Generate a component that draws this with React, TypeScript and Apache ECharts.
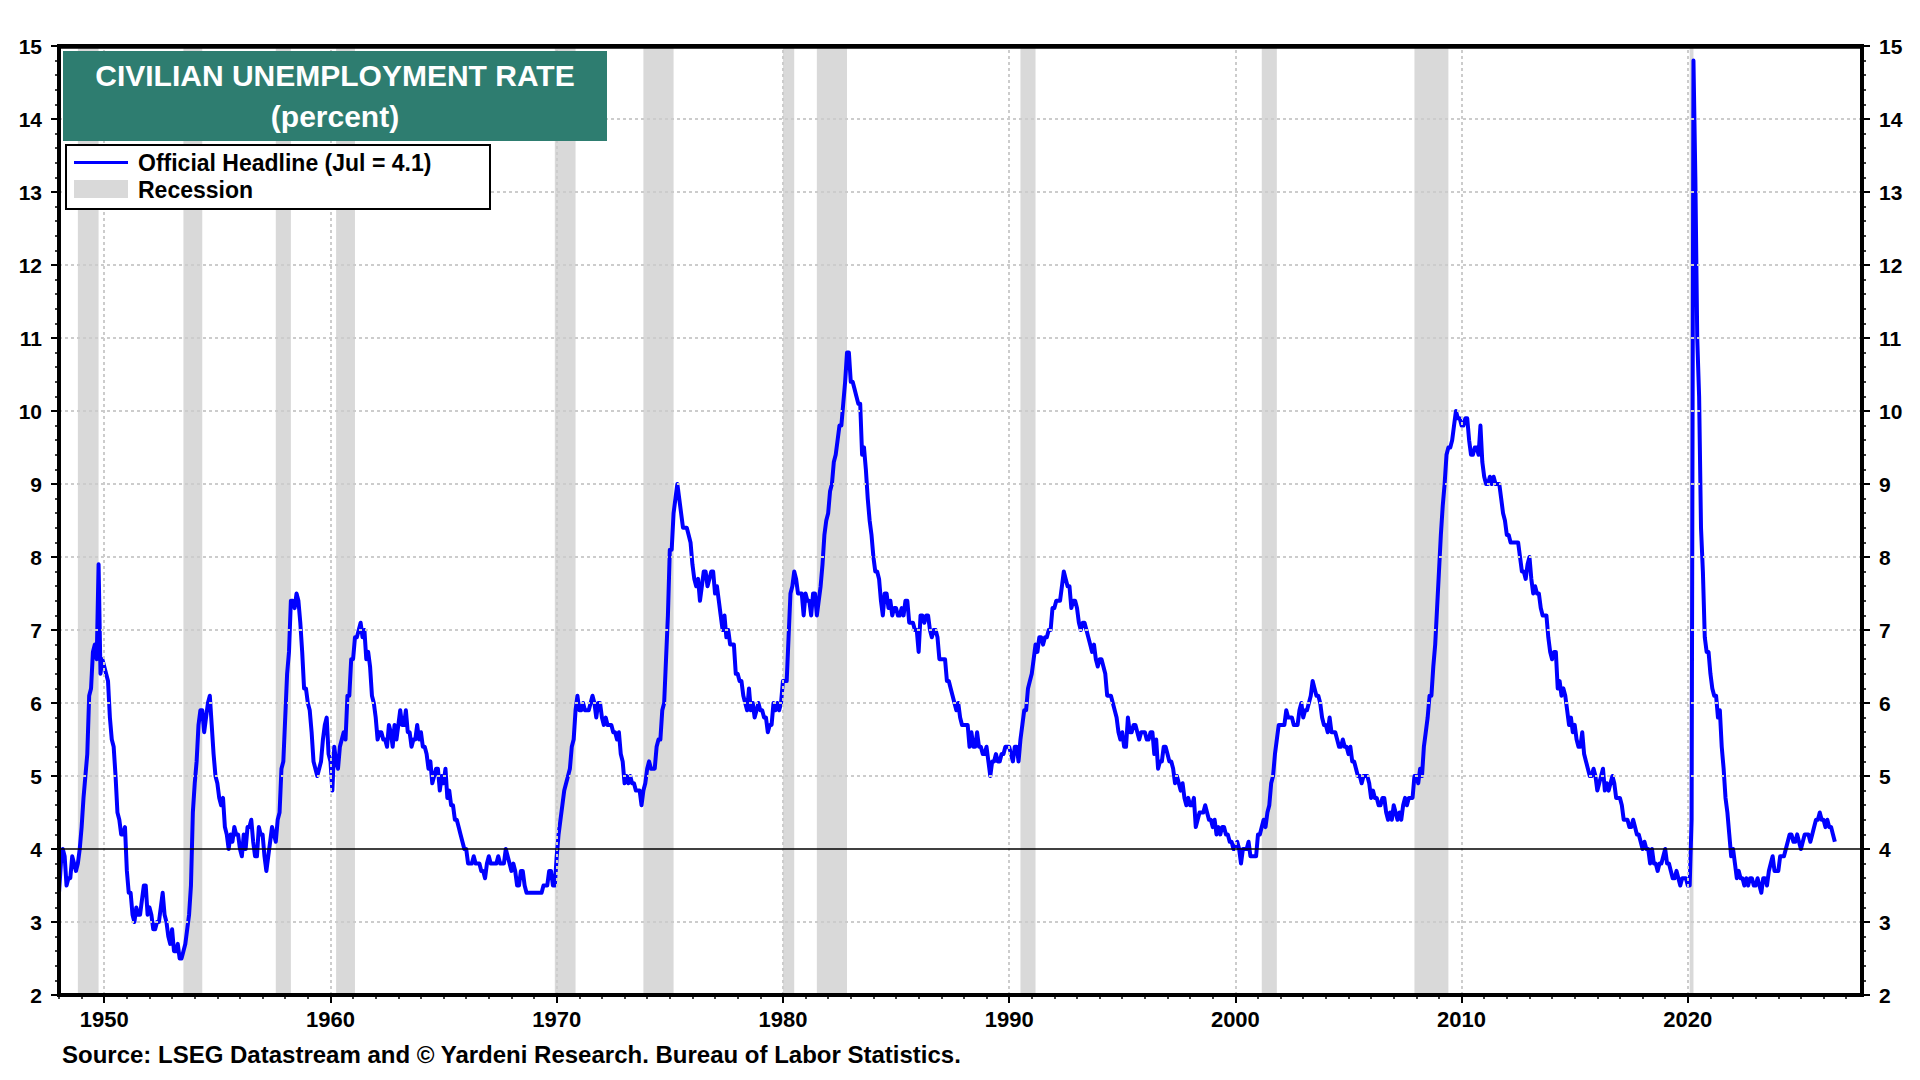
import React, { useEffect, useRef } from "react";
import * as echarts from "echarts";

// ---- Data: US civilian unemployment rate, monthly (percent) ----
const FIRST_YEAR = 1948;

const ur1948_1949 = [
  3.4, 3.8, 4.0, 3.9, 3.5, 3.6, 3.6, 3.9, 3.8, 3.7, 3.8, 4.0,
  4.3, 4.7, 5.0, 5.3, 6.1, 6.2, 6.7, 6.8, 6.6, 7.9, 6.4, 6.6,
];
const ur1950s = [
  6.5, 6.4, 6.3, 5.8, 5.5, 5.4, 5.0, 4.5, 4.4, 4.2, 4.2, 4.3,
  3.7, 3.4, 3.4, 3.1, 3.0, 3.2, 3.1, 3.1, 3.3, 3.5, 3.5, 3.1,
  3.2, 3.1, 2.9, 2.9, 3.0, 3.0, 3.2, 3.4, 3.1, 3.0, 2.8, 2.7,
  2.9, 2.6, 2.6, 2.7, 2.5, 2.5, 2.6, 2.7, 2.9, 3.1, 3.5, 4.5,
  4.9, 5.2, 5.7, 5.9, 5.9, 5.6, 5.8, 6.0, 6.1, 5.7, 5.3, 5.0,
  4.9, 4.7, 4.6, 4.7, 4.3, 4.2, 4.0, 4.2, 4.1, 4.3, 4.2, 4.2,
  4.0, 3.9, 4.2, 4.0, 4.3, 4.3, 4.4, 4.1, 3.9, 3.9, 4.3, 4.2,
  4.2, 3.9, 3.7, 3.9, 4.1, 4.3, 4.2, 4.1, 4.4, 4.5, 5.1, 5.2,
  5.8, 6.4, 6.7, 7.4, 7.4, 7.3, 7.5, 7.4, 7.1, 6.7, 6.2, 6.2,
  6.0, 5.9, 5.6, 5.2, 5.1, 5.0, 5.1, 5.2, 5.5, 5.7, 5.8, 5.3,
];
const ur1960s = [
  5.2, 4.8, 5.4, 5.2, 5.1, 5.4, 5.5, 5.6, 5.5, 6.1, 6.1, 6.6,
  6.6, 6.9, 6.9, 7.0, 7.1, 6.9, 7.0, 6.6, 6.7, 6.5, 6.1, 6.0,
  5.8, 5.5, 5.6, 5.6, 5.5, 5.5, 5.4, 5.7, 5.6, 5.4, 5.7, 5.5,
  5.7, 5.9, 5.7, 5.7, 5.9, 5.6, 5.6, 5.4, 5.5, 5.5, 5.7, 5.5,
  5.6, 5.4, 5.4, 5.3, 5.1, 5.2, 4.9, 5.0, 5.1, 5.1, 4.8, 5.0,
  4.9, 5.1, 4.7, 4.8, 4.6, 4.6, 4.4, 4.4, 4.3, 4.2, 4.1, 4.0,
  4.0, 3.8, 3.8, 3.8, 3.9, 3.8, 3.8, 3.8, 3.7, 3.7, 3.6, 3.8,
  3.9, 3.8, 3.8, 3.8, 3.8, 3.9, 3.8, 3.8, 3.8, 4.0, 3.9, 3.8,
  3.7, 3.8, 3.7, 3.5, 3.5, 3.7, 3.7, 3.5, 3.4, 3.4, 3.4, 3.4,
  3.4, 3.4, 3.4, 3.4, 3.4, 3.5, 3.5, 3.5, 3.7, 3.7, 3.5, 3.5,
];
const ur1970s = [
  3.9, 4.2, 4.4, 4.6, 4.8, 4.9, 5.0, 5.1, 5.4, 5.5, 5.9, 6.1,
  5.9, 5.9, 6.0, 5.9, 5.9, 5.9, 6.0, 6.1, 6.0, 5.8, 6.0, 6.0,
  5.8, 5.7, 5.8, 5.7, 5.7, 5.7, 5.6, 5.6, 5.5, 5.6, 5.3, 5.2,
  4.9, 5.0, 4.9, 5.0, 4.9, 4.9, 4.8, 4.8, 4.8, 4.6, 4.8, 4.9,
  5.1, 5.2, 5.1, 5.1, 5.1, 5.4, 5.5, 5.5, 5.9, 6.0, 6.6, 7.2,
  8.1, 8.1, 8.6, 8.8, 9.0, 8.8, 8.6, 8.4, 8.4, 8.4, 8.3, 8.2,
  7.9, 7.7, 7.6, 7.7, 7.4, 7.6, 7.8, 7.8, 7.6, 7.7, 7.8, 7.8,
  7.5, 7.6, 7.4, 7.2, 7.0, 7.2, 6.9, 7.0, 6.8, 6.8, 6.8, 6.4,
  6.4, 6.3, 6.3, 6.1, 6.0, 5.9, 6.2, 5.9, 6.0, 5.8, 5.9, 6.0,
  5.9, 5.9, 5.8, 5.8, 5.6, 5.7, 5.7, 6.0, 5.9, 6.0, 5.9, 6.0,
];
const ur1980s = [
  6.3, 6.3, 6.3, 6.9, 7.5, 7.6, 7.8, 7.7, 7.5, 7.5, 7.5, 7.2,
  7.5, 7.4, 7.4, 7.2, 7.5, 7.5, 7.2, 7.4, 7.6, 7.9, 8.3, 8.5,
  8.6, 8.9, 9.0, 9.3, 9.4, 9.6, 9.8, 9.8, 10.1, 10.4, 10.8, 10.8,
  10.4, 10.4, 10.3, 10.2, 10.1, 10.1, 9.4, 9.5, 9.2, 8.8, 8.5, 8.3,
  8.0, 7.8, 7.8, 7.7, 7.4, 7.2, 7.5, 7.5, 7.3, 7.4, 7.2, 7.3,
  7.3, 7.2, 7.2, 7.3, 7.2, 7.4, 7.4, 7.1, 7.1, 7.1, 7.0, 7.0,
  6.7, 7.2, 7.2, 7.1, 7.2, 7.2, 7.0, 6.9, 7.0, 7.0, 6.9, 6.6,
  6.6, 6.6, 6.6, 6.3, 6.3, 6.2, 6.1, 6.0, 5.9, 6.0, 5.8, 5.7,
  5.7, 5.7, 5.7, 5.4, 5.6, 5.4, 5.4, 5.6, 5.4, 5.4, 5.3, 5.3,
  5.4, 5.2, 5.0, 5.2, 5.2, 5.3, 5.2, 5.2, 5.3, 5.3, 5.4, 5.4,
];
const ur1990s = [
  5.4, 5.3, 5.2, 5.4, 5.4, 5.2, 5.5, 5.7, 5.9, 5.9, 6.2, 6.3,
  6.4, 6.6, 6.8, 6.7, 6.9, 6.9, 6.8, 6.9, 6.9, 7.0, 7.0, 7.3,
  7.3, 7.4, 7.4, 7.4, 7.6, 7.8, 7.7, 7.6, 7.6, 7.3, 7.4, 7.4,
  7.3, 7.1, 7.0, 7.1, 7.1, 7.0, 6.9, 6.8, 6.7, 6.8, 6.6, 6.5,
  6.6, 6.6, 6.5, 6.4, 6.1, 6.1, 6.1, 6.0, 5.9, 5.8, 5.6, 5.5,
  5.6, 5.4, 5.4, 5.8, 5.6, 5.6, 5.7, 5.7, 5.6, 5.5, 5.6, 5.6,
  5.6, 5.5, 5.5, 5.6, 5.6, 5.3, 5.5, 5.1, 5.2, 5.2, 5.4, 5.4,
  5.3, 5.2, 5.2, 5.1, 4.9, 5.0, 4.9, 4.8, 4.9, 4.7, 4.6, 4.7,
  4.6, 4.6, 4.7, 4.3, 4.4, 4.5, 4.5, 4.5, 4.6, 4.5, 4.4, 4.4,
  4.3, 4.4, 4.2, 4.3, 4.2, 4.3, 4.3, 4.2, 4.2, 4.1, 4.1, 4.0,
];
const ur2000s = [
  4.0, 4.1, 4.0, 3.8, 4.0, 4.0, 4.0, 4.1, 3.9, 3.9, 3.9, 3.9,
  4.2, 4.2, 4.3, 4.4, 4.3, 4.5, 4.6, 4.9, 5.0, 5.3, 5.5, 5.7,
  5.7, 5.7, 5.7, 5.9, 5.8, 5.8, 5.8, 5.7, 5.7, 5.7, 5.9, 6.0,
  5.8, 5.9, 5.9, 6.0, 6.1, 6.3, 6.2, 6.1, 6.1, 6.0, 5.8, 5.7,
  5.7, 5.6, 5.8, 5.6, 5.6, 5.6, 5.5, 5.4, 5.4, 5.5, 5.4, 5.4,
  5.3, 5.4, 5.2, 5.2, 5.1, 5.0, 5.0, 4.9, 5.0, 5.0, 5.0, 4.9,
  4.7, 4.8, 4.7, 4.7, 4.6, 4.6, 4.7, 4.7, 4.5, 4.4, 4.5, 4.4,
  4.6, 4.5, 4.4, 4.5, 4.4, 4.6, 4.7, 4.6, 4.7, 4.7, 4.7, 5.0,
  5.0, 4.9, 5.1, 5.0, 5.4, 5.6, 5.8, 6.1, 6.1, 6.5, 6.8, 7.3,
  7.8, 8.3, 8.7, 9.0, 9.4, 9.5, 9.5, 9.6, 9.8, 10.0, 9.9, 9.9,
];
const ur2010s = [
  9.8, 9.8, 9.9, 9.9, 9.6, 9.4, 9.4, 9.5, 9.5, 9.4, 9.8, 9.3,
  9.1, 9.0, 9.0, 9.1, 9.0, 9.1, 9.0, 9.0, 9.0, 8.8, 8.6, 8.5,
  8.3, 8.3, 8.2, 8.2, 8.2, 8.2, 8.2, 8.0, 7.8, 7.8, 7.7, 7.9,
  8.0, 7.7, 7.5, 7.6, 7.5, 7.5, 7.3, 7.2, 7.2, 7.2, 6.9, 6.7,
  6.6, 6.7, 6.7, 6.2, 6.3, 6.1, 6.2, 6.1, 5.9, 5.7, 5.8, 5.6,
  5.7, 5.5, 5.4, 5.4, 5.6, 5.3, 5.2, 5.1, 5.0, 5.0, 5.1, 5.0,
  4.8, 4.9, 5.0, 5.1, 4.8, 4.9, 4.8, 4.9, 5.0, 4.9, 4.7, 4.7,
  4.7, 4.6, 4.4, 4.4, 4.4, 4.3, 4.3, 4.4, 4.3, 4.2, 4.2, 4.1,
  4.0, 4.1, 4.0, 4.0, 3.8, 4.0, 3.8, 3.8, 3.7, 3.8, 3.8, 3.9,
  4.0, 3.8, 3.8, 3.7, 3.6, 3.6, 3.7, 3.6, 3.5, 3.6, 3.6, 3.6,
];
const ur2020s = [
  3.5, 3.5, 4.4, 14.8, 13.2, 11.0, 10.2, 8.4, 7.8, 6.9, 6.7, 6.7,
  6.4, 6.2, 6.1, 6.1, 5.8, 5.9, 5.4, 5.1, 4.7, 4.5, 4.2, 3.9,
  4.0, 3.8, 3.6, 3.7, 3.6, 3.6, 3.5, 3.6, 3.5, 3.6, 3.6, 3.5,
  3.5, 3.6, 3.5, 3.4, 3.6, 3.6, 3.5, 3.7, 3.8, 3.9, 3.7, 3.7,
  3.7, 3.9, 3.9, 3.9, 4.0, 4.1, 4.2, 4.2, 4.1, 4.1, 4.2, 4.1,
  4.0, 4.1, 4.2, 4.2, 4.2, 4.1, 4.2, 4.3, 4.4, 4.4, 4.5, 4.4,
  4.4, 4.3, 4.4, 4.3, 4.3, 4.2, 4.1,
];

// NBER recessions (peak month, trough month)
const recessionStarts = ["1948-11", "1953-07", "1957-08", "1960-04", "1969-12", "1973-11", "1980-01", "1981-07", "1990-07", "2001-03", "2007-12", "2020-02"];
const recessionEnds = ["1949-10", "1954-05", "1958-04", "1961-02", "1970-11", "1975-03", "1980-07", "1982-11", "1991-03", "2001-11", "2009-06", "2020-04"];

const decadeLabels = [1950, 1960, 1970, 1980, 1990, 2000, 2010, 2020];
const yearTicks = Array.from({ length: 80 }, (_, i) => 1948 + i);
const yGridLevels = [3, 4, 5, 6, 7, 8, 9, 10, 11, 12, 13, 14];
const Y_MIN = 2;
const Y_MAX = 15;
const REFERENCE_LEVEL = 4;

const X_MIN = 1948;
const X_MAX = 2027.7;

const FONT = '"Liberation Sans", Arial, Helvetica, sans-serif';

function monthToX(s: string): number {
  const [y, m] = s.split("-").map(Number);
  return y + (m - 1) / 12;
}

function buildSeries(): [number, number][] {
  const all = [
    ...ur1948_1949, ...ur1950s, ...ur1960s, ...ur1970s, ...ur1980s,
    ...ur1990s, ...ur2000s, ...ur2010s, ...ur2020s,
  ];
  return all.map((v, i) => [FIRST_YEAR + i / 12, v]);
}

export default function App() {
  const ref = useRef<HTMLDivElement>(null);

  useEffect(() => {
    document.body.style.margin = "0";
    if (!ref.current) return;
    const chart = echarts.init(ref.current, undefined, { renderer: "svg" });
    const data = buildSeries();

    const axisLabelStyle = {
      color: "#000",
      fontFamily: FONT,
      fontWeight: "bold" as const,
    };

    const gridDot = { color: "#cccccc", width: 2, type: [3, 3] };

    const yAxisBase = {
      type: "value" as const,
      min: Y_MIN,
      max: Y_MAX,
      interval: 1,
      z: 10,
      axisLine: { show: true, onZero: false, lineStyle: { color: "#000", width: 4 } },
      axisTick: { show: true, inside: false, length: 8, lineStyle: { color: "#000", width: 2 } },
      minorTick: { show: true, splitNumber: 5, length: 4, lineStyle: { color: "#000", width: 1.5 } },
      axisLabel: { ...axisLabelStyle, fontSize: 21, margin: 17 },
      splitLine: { show: false },
    };

    const option: any = {
      animation: false,
      backgroundColor: "#fff",
      grid: {
        left: 59,
        right: 58,
        top: 46,
        bottom: 85,
        show: true,
        borderColor: "#000",
        borderWidth: 4,
        backgroundColor: "transparent",
      },
      xAxis: [
        {
          type: "value",
          min: X_MIN,
          max: X_MAX,
          position: "bottom",
          z: 10,
          axisLine: { show: true, onZero: false, lineStyle: { color: "#000", width: 4 } },
          axisTick: { show: true, customValues: decadeLabels, length: 8, lineStyle: { color: "#000", width: 2 } },
          axisLabel: {
            ...axisLabelStyle,
            fontSize: 22,
            margin: 13,
            customValues: decadeLabels,
            formatter: (v: number) => String(Math.round(v)),
          },
          splitLine: { show: false },
        },
        {
          type: "value",
          min: X_MIN,
          max: X_MAX,
          position: "bottom",
          z: 10,
          axisLine: { show: false, onZero: false },
          axisTick: { show: true, customValues: yearTicks, length: 4, lineStyle: { color: "#000", width: 1.5 } },
          axisLabel: { show: false },
          splitLine: { show: false },
        },
        {
          type: "value",
          min: X_MIN,
          max: X_MAX,
          position: "top",
          z: 10,
          axisLine: { show: true, onZero: false, lineStyle: { color: "#000", width: 4.5 } },
          axisTick: { show: false },
          axisLabel: { show: false },
          splitLine: { show: false },
        },
      ],
      yAxis: [
        { ...yAxisBase, position: "left" },
        { ...yAxisBase, position: "right" },
      ],
      series: [
        {
          name: "background",
          type: "line",
          data,
          xAxisIndex: 0,
          yAxisIndex: 0,
          showSymbol: false,
          symbol: "none",
          silent: true,
          z: 1,
          lineStyle: { opacity: 0, width: 0 },
          markArea: {
            silent: true,
            itemStyle: { color: "#d9d9d9" },
            data: recessionStarts.map((s, i) => [
              { xAxis: monthToX(s) },
              { xAxis: monthToX(recessionEnds[i]) },
            ]),
          },
          markLine: {
            silent: true,
            symbol: ["none", "none"],
            label: { show: false },
            lineStyle: gridDot,
            data: [
              ...decadeLabels.map((y) => ({ xAxis: y })),
              ...yGridLevels
                .filter((v) => v !== REFERENCE_LEVEL)
                .map((v) => ({ yAxis: v })),
              { yAxis: REFERENCE_LEVEL, lineStyle: { color: "#000", width: 1.5, type: "solid" } },
            ],
          },
        },
        {
          name: "Official Headline",
          type: "line",
          data,
          xAxisIndex: 0,
          yAxisIndex: 0,
          showSymbol: false,
          symbol: "none",
          z: 3,
          lineStyle: { color: "#0000ff", width: 4, join: "round" },
          itemStyle: { color: "#0000ff" },
        },
      ],
      graphic: [
        {
          type: "rect",
          z: 20,
          shape: { x: 63, y: 51, width: 544, height: 90 },
          style: { fill: "#2e7d70" },
        },
        {
          type: "text",
          z: 21,
          style: {
            text: "CIVILIAN UNEMPLOYMENT RATE",
            x: 335,
            y: 75,
            fill: "#fff",
            font: `bold 30px ${FONT}`,
            align: "center",
            verticalAlign: "middle",
            textAlign: "center",
            textVerticalAlign: "middle",
          },
        },
        {
          type: "text",
          z: 21,
          style: {
            text: "(percent)",
            x: 335,
            y: 116,
            fill: "#fff",
            font: `bold 30px ${FONT}`,
            align: "center",
            verticalAlign: "middle",
            textAlign: "center",
            textVerticalAlign: "middle",
          },
        },
        {
          type: "rect",
          z: 20,
          shape: { x: 66, y: 145, width: 424, height: 64 },
          style: { fill: "#fff", stroke: "#000", lineWidth: 2 },
        },
        {
          type: "line",
          z: 21,
          shape: { x1: 74, y1: 162.5, x2: 128, y2: 162.5 },
          style: { stroke: "#0000ff", lineWidth: 3 },
        },
        {
          type: "text",
          z: 21,
          style: {
            text: "Official Headline (Jul = 4.1)",
            x: 138,
            y: 163,
            fill: "#000",
            font: `bold 23px ${FONT}`,
            align: "left",
            verticalAlign: "middle",
            textAlign: "left",
            textVerticalAlign: "middle",
          },
        },
        {
          type: "rect",
          z: 21,
          shape: { x: 74, y: 180, width: 54, height: 18 },
          style: { fill: "#d9d9d9" },
        },
        {
          type: "text",
          z: 21,
          style: {
            text: "Recession",
            x: 138,
            y: 190,
            fill: "#000",
            font: `bold 23px ${FONT}`,
            align: "left",
            verticalAlign: "middle",
            textAlign: "left",
            textVerticalAlign: "middle",
          },
        },
        {
          type: "text",
          z: 21,
          style: {
            text: "Source: LSEG Datastream and © Yardeni Research. Bureau of Labor Statistics.",
            x: 62,
            y: 1054,
            fill: "#000",
            font: `bold 24px ${FONT}`,
            align: "left",
            verticalAlign: "middle",
            textAlign: "left",
            textVerticalAlign: "middle",
          },
        },
      ],
    };

    chart.setOption(option);
    return () => chart.dispose();
  }, []);

  return (
    <div
      ref={ref}
      style={{ position: "absolute", left: 0, top: 0, width: 1920, height: 1080, background: "#fff" }}
    />
  );
}
